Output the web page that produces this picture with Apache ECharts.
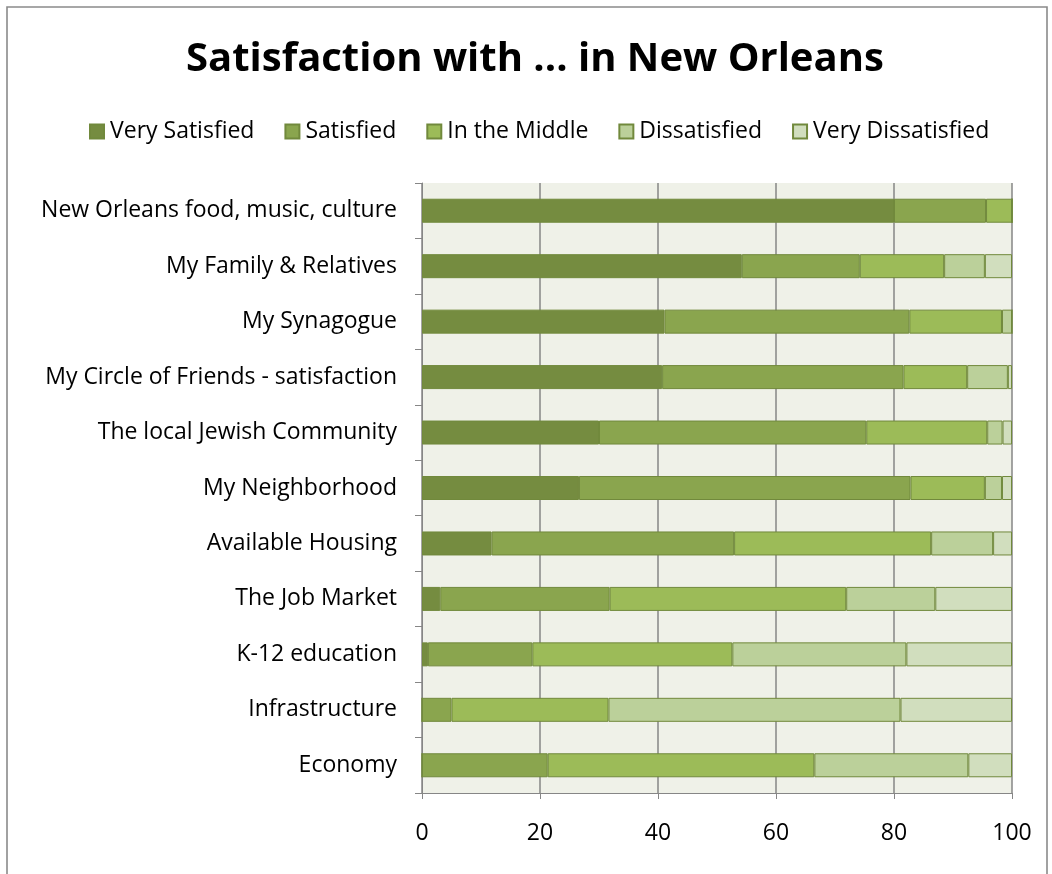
<!DOCTYPE html>
<html>
<head>
<meta charset="utf-8">
<script src="https://cdn.jsdelivr.net/npm/echarts@6/dist/echarts.min.js"></script>
<style>
  html, body { margin: 0; padding: 0; background: #ffffff; }
  #chart { width: 1052px; height: 874px; }
</style>
</head>
<body>
<div id="chart"></div>
<script>
// Survey topics, top to bottom
const categories = [
  'New Orleans food, music, culture',
  'My Family & Relatives',
  'My Synagogue',
  'My Circle of Friends - satisfaction',
  'The local Jewish Community',
  'My Neighborhood',
  'Available Housing',
  'The Job Market',
  'K-12 education',
  'Infrastructure',
  'Economy'
];

// Percent of respondents per answer, same order as categories
const verySatisfied     = [80.0, 54.2, 41.1, 40.7, 30.0, 26.6, 11.8,  3.1,  1.0,  0.0,  0.0];
const satisfied         = [15.6, 20.0, 41.5, 40.9, 45.3, 56.2, 41.1, 28.7, 17.7,  5.0, 21.3];
const inTheMiddle       = [ 4.4, 14.3, 15.7, 10.8, 20.5, 12.6, 33.4, 40.1, 33.9, 26.6, 45.2];
const dissatisfied      = [ 0.0,  6.9,  1.7,  6.9,  2.6,  2.9, 10.5, 15.1, 29.5, 49.5, 26.1];
const veryDissatisfied  = [ 0.0,  4.6,  0.0,  0.7,  1.6,  1.7,  3.2, 13.0, 17.9, 18.9,  7.4];

const xTicks = { min: 0, max: 100, interval: 20 };

const seriesDefs = [
  { name: 'Very Satisfied',    data: verySatisfied,    color: '#758C40' },
  { name: 'Satisfied',         data: satisfied,        color: '#8AA54E' },
  { name: 'In the Middle',     data: inTheMiddle,      color: '#9CBB58' },
  { name: 'Dissatisfied',      data: dissatisfied,     color: '#BBD09A' },
  { name: 'Very Dissatisfied', data: veryDissatisfied, color: '#D1DEBE' }
];

const font = '"Open Sans", Lato, sans-serif';
const chart = echarts.init(document.getElementById('chart'), null, { renderer: 'canvas' });

chart.setOption({
  backgroundColor: '#ffffff',
  animation: false,
  graphic: [{
    type: 'rect',
    shape: { x: 7, y: 7, width: 1040, height: 880 },
    style: { fill: 'none', stroke: '#8a8a8a', lineWidth: 1.6 },
    silent: true,
    z: -10
  }],
  title: {
    text: 'Satisfaction with ... in New Orleans',
    left: 181,
    top: 35,
    textStyle: { fontFamily: font, fontSize: 40, fontWeight: 'bold', color: '#000000' }
  },
  legend: {
    top: 115,
    left: 84,
    itemWidth: 14,
    itemHeight: 14,
    itemGap: 30,
    icon: 'rect',
    textStyle: { fontFamily: font, fontSize: 23, color: '#000000', padding: [0, 0, 0, 1] },
    data: seriesDefs.map(s => s.name)
  },
  grid: {
    left: 422,
    right: 40,
    top: 183,
    bottom: 81,
    show: true,
    backgroundColor: '#EFF1E8',
    borderWidth: 0,
    containLabel: false
  },
  xAxis: {
    type: 'value',
    min: xTicks.min,
    max: xTicks.max,
    interval: xTicks.interval,
    axisLine: { show: true, lineStyle: { color: '#868686', width: 1 } },
    axisTick: { show: true, length: 6, lineStyle: { color: '#868686' } },
    axisLabel: { fontFamily: font, fontSize: 23, color: '#000000', margin: 29 },
    splitLine: { show: true, lineStyle: { color: '#868686', width: 1.5 } }
  },
  yAxis: {
    type: 'category',
    data: categories,
    inverse: true,
    axisLine: { show: true, lineStyle: { color: '#868686', width: 1 } },
    axisTick: { show: true, length: 7, lineStyle: { color: '#868686' } },
    axisLabel: { fontFamily: font, fontSize: 23, color: '#000000', margin: 25 },
    splitLine: { show: false }
  },
  series: seriesDefs.map(s => ({
    name: s.name,
    type: 'bar',
    stack: 'total',
    data: s.data,
    barWidth: 24,
    itemStyle: { color: s.color, borderColor: '#71893C', borderWidth: 1 },
    emphasis: { disabled: true }
  }))
});
</script>
</body>
</html>
